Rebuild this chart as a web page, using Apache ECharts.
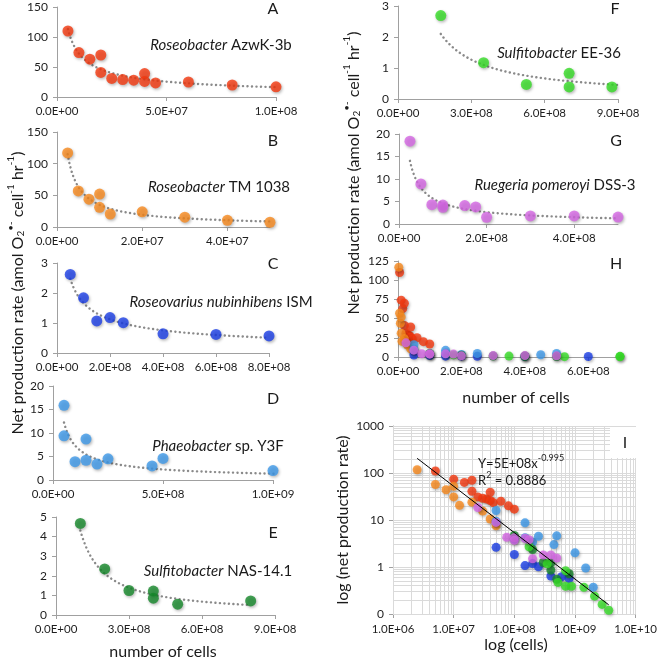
<!DOCTYPE html>
<html><head><meta charset="utf-8">
<script src="https://cdn.jsdelivr.net/npm/echarts@6/dist/echarts.min.js"></script>
<style>html,body{margin:0;padding:0;background:#fff}#c{width:660px;height:662px}</style>
</head><body><div id="c"></div>
<script>
// ---- data (cells, net production rate) ----
const A_x = [5e6,1e7,1.5e7,2e7,2e7,2.5e7,3e7,3.5e7,4e7,4e7,4.5e7,6e7,8e7,1e8];
const A_y = [110,74,63,70,41,31,29,28,39,26,23.5,25,20,17];
const B_x = [2.5e6,5e6,7.5e6,1e7,1e7,1.25e7,2e7,3e7,4e7,5e7];
const B_y = [117,57,44,52,31,20.5,24,15.5,10.5,7.5];
const C_x = [5e7,1e8,1.5e8,2e8,2.5e8,4e8,6e8,8e8];
const C_y = [2.62,1.84,1.07,1.18,1.01,0.64,0.62,0.57];
const D_x = [5e7,5e7,1e8,1.5e8,1.5e8,2e8,2.5e8,4.5e8,5e8,1e9,1.5e9,2e9];
const D_y = [15.9,9.4,3.9,8.7,4.2,3.4,4.5,3.0,4.6,2.0,0.95,0.37];
const E_x = [1e8,2e8,3e8,4e8,4e8,5e8,8e8];
const E_y = [4.67,2.35,1.25,1.22,0.86,0.55,0.72];
const F_x = [1.75e8,3.5e8,5.25e8,7e8,7e8,8.75e8,1.4e9,2.1e9,2.8e9,3.6e9];
const F_y = [2.69,1.17,0.47,0.83,0.39,0.39,0.37,0.24,0.16,0.12];
const G_x = [2.5e7,5e7,7.5e7,1e8,1e8,1.5e8,1.75e8,2e8,3e8,4e8,5e8];
const G_y = [18.4,8.9,4.3,4.2,3.7,4.1,3.8,1.5,1.8,1.8,1.55];

const panelLetters = ['A','B','C','D','E','F','G','H','I'];
const speciesItalic = ['Roseobacter','Roseobacter','Roseovarius nubinhibens','Phaeobacter','Sulfitobacter','Sulfitobacter','Ruegeria pomeroyi'];
const speciesRest = [' AzwK-3b',' TM 1038',' ISM',' sp. Y3F',' NAS-14.1',' EE-36',' DSS-3'];
const colors = ['#f4380f','#f78a1e','#1c3fe6','#3d98e8','#15882a','#35dc25','#d466e3'];
const regText = ['Y=5E+08x','-0.995'];
const r2Text = '0.8886';

const X = [A_x,B_x,C_x,D_x,E_x,F_x,G_x];
const Y = [A_y,B_y,C_y,D_y,E_y,F_y,G_y];

function pairs(xs, ys){ return xs.map((x,i)=>[x, ys[i]]); }
function powerFit(xs, ys){
  const n = xs.length; let sx=0, sy=0, sxx=0, sxy=0;
  for (let i=0;i<n;i++){ const lx=Math.log(xs[i]), ly=Math.log(ys[i]); sx+=lx; sy+=ly; sxx+=lx*lx; sxy+=lx*ly; }
  const b = (n*sxy - sx*sy)/(n*sxx - sx*sx);
  const a = Math.exp((sy - b*sx)/n);
  return {a,b};
}
function trend(xs, ys, steps){
  const f = powerFit(xs, ys);
  const lo = Math.min(...xs), hi = Math.max(...xs);
  const out = [];
  for (let i=0;i<=steps;i++){ const x = lo + (hi-lo)*i/steps; out.push([x, f.a*Math.pow(x, f.b)]); }
  return out;
}
function sci(v){
  if (v === 0) return '0.0E+00';
  const e = Math.floor(Math.log10(v) + 1e-9);
  const m = v/Math.pow(10,e);
  return m.toFixed(1) + 'E+' + String(e).padStart(2,'0');
}

const FONT = 'Lato, "Open Sans", sans-serif';
const axisCol = '#a0a0a0';
const lblCol = '#1e1e1e';

const grids = [
  {left:57, top:7,   width:219, height:90},
  {left:57, top:132, width:213, height:95},
  {left:57, top:263, width:212, height:90},
  {left:53, top:386, width:220, height:94},
  {left:56, top:517, width:219, height:98},
  {left:398,top:3,   width:220, height:96},
  {left:399,top:134, width:219, height:90},
  {left:398,top:261, width:222, height:96},
  {left:393,top:426, width:246, height:188}
];
const xr = [[0,1e8,5e7],[0,5e7,2e7],[0,8e8,2e8],[0,1e9,5e8],[0,9e8,3e8],[0,9e8,3e8],[0,5e8,2e8],[0,7e8,2e8]];
const yr = [[0,150,50],[0,150,50],[0,3,1],[0,20,5],[0,5,1],[0,3,1],[0,20,5],[0,125,25]];

const baseAxis = {
  axisLine:{lineStyle:{color:axisCol,width:1}},
  axisTick:{show:true,length:4,lineStyle:{color:axisCol}},
  splitLine:{show:false},
};
const xAxes = [], yAxes = [];
for (let i=0;i<8;i++){
  xAxes.push(Object.assign({}, baseAxis, {type:'value', gridIndex:i, min:xr[i][0], max:xr[i][1], interval:xr[i][2],
    axisLabel:{formatter:sci, fontSize:11.5, color:lblCol, fontFamily:FONT, margin:8, showMaxLabel: (xr[i][1] % xr[i][2] === 0)}}));
  yAxes.push(Object.assign({}, baseAxis, {type:'value', gridIndex:i, min:yr[i][0], max:yr[i][1], interval:yr[i][2],
    axisLabel:{fontSize:12, color:lblCol, fontFamily:FONT, margin:9}}));
}
xAxes.push(Object.assign({}, baseAxis, {type:'log', logBase:10, gridIndex:8, min:1e6, max:1e10,
  axisLabel:{formatter:sci, fontSize:11.5, color:lblCol, fontFamily:FONT, margin:9}}));
yAxes.push(Object.assign({}, baseAxis, {type:'log', logBase:10, gridIndex:8, min:0.1, max:1000,
  axisLabel:{formatter:v => v < 1 ? '0' : String(Math.round(v)), fontSize:12, color:lblCol, fontFamily:FONT, margin:9}}));

const shadow = {shadowBlur:3, shadowColor:'rgba(0,0,0,0.35)', shadowOffsetX:1, shadowOffsetY:1.5};
const series = [];
// individual panels
for (let i=0;i<7;i++){
  series.push({type:'line', xAxisIndex:i, yAxisIndex:i, data:trend(X[i],Y[i],300), showSymbol:false, symbol:'none', clip:true,
    lineStyle:{color:'#8a8a8a', width:2.4, type:[0.1,4.4], cap:'round'}, z:2, silent:true});
  series.push({type:'scatter', xAxisIndex:i, yAxisIndex:i, data:pairs(X[i],Y[i]), symbolSize:11, clip:true,
    itemStyle:Object.assign({color:colors[i]}, shadow), z:10});
}
// panel H (all strains, linear)
for (let i=0;i<7;i++){
  series.push({type:'scatter', xAxisIndex:7, yAxisIndex:7, data:pairs(X[i],Y[i]), symbolSize:9, clip:true,
    itemStyle:Object.assign({color:colors[i]}, shadow), z:10});
}
// panel I gridlines
const gx = [], gy = [];
for (let e=6;e<10;e++) for (let k=1;k<10;k++) gx.push(k*Math.pow(10,e));
gx.push(1e10);
for (let e=-1;e<3;e++) for (let k=1;k<10;k++) gy.push(k*Math.pow(10,e));
gy.push(1000);
series.push({type:'line', xAxisIndex:8, yAxisIndex:8, data:[], silent:true, z:1,
  markLine:{silent:true, z:1, symbol:['none','none'], label:{show:false}, animation:false,
    lineStyle:{color:'#dadada', width:1, type:'solid'},
    data: gx.map(v=>({xAxis:v})).concat(gy.map(v=>({yAxis:v})))}});
// panel I scatter
const allX = [], allY = [];
for (let i=0;i<7;i++){
  series.push({type:'scatter', xAxisIndex:8, yAxisIndex:8, data:pairs(X[i],Y[i]), symbolSize:9, clip:true,
    itemStyle:Object.assign({color:colors[i]}, shadow), z:10});
  allX.push(...X[i]); allY.push(...Y[i]);
}
{
  const f = powerFit(allX, allY);
  const lo = Math.min(...allX), hi = Math.max(...allX);
  series.push({type:'line', xAxisIndex:8, yAxisIndex:8, data:[[lo, f.a*Math.pow(lo,f.b)],[hi, f.a*Math.pow(hi,f.b)]],
    showSymbol:false, symbol:'none', lineStyle:{color:'#000', width:1}, z:12, silent:true});
}

// text graphics
const g = [];
function txt(x,y,text,size,opts){
  g.push(Object.assign({type:'text', x:x, y:y, z:100,
    style:Object.assign({text:text, fontSize:size, fontFamily:FONT, fill:'#1a1a1a', align:'center', verticalAlign:'middle'}, opts||{})}));
}
const letterPos = [[273,9],[273,141],[273,264],[273,399],[273,533],[615,9],[616,141],[616,264],[625,443]];
const speciesPos = [[221,45],[219,187],[221,302],[218,446],[218,571],[559,53],[555,185]];
// white box behind letter I
g.push({type:'rect', shape:{x:610, y:427, width:29, height:31}, style:{fill:'#fff'}, z:99});
panelLetters.forEach((l,i)=>txt(letterPos[i][0], letterPos[i][1], l, 16));
speciesItalic.forEach((s,i)=>{
  g.push({type:'text', x:speciesPos[i][0], y:speciesPos[i][1], z:100,
    style:{text:'{it|'+s+'}{n|'+speciesRest[i]+'}', align:'center', verticalAlign:'middle', fill:'#1a1a1a',
      rich:{it:{fontStyle:'italic', fontSize:15, fontFamily:FONT, fill:'#1a1a1a'}, n:{fontSize:15, fontFamily:FONT, fill:'#1a1a1a'}}}});
});
const ytRich = {
  n:{fontSize:16, fontFamily:FONT, fill:'#1a1a1a', verticalAlign:'bottom', lineHeight:20},
  sb:{fontSize:10, fontFamily:FONT, fill:'#1a1a1a', verticalAlign:'bottom', lineHeight:12},
  sp:{fontSize:10, fontFamily:FONT, fill:'#1a1a1a', verticalAlign:'top', lineHeight:12}
};
const ytText = '{n|Net production rate (amol O}{sb|2}{sp|•-}{n| cell}{sp|-1}{n| hr}{sp|-1}{n|)}';
g.push({type:'text', x:16, y:293, rotation:Math.PI/2, z:100, style:{text:ytText, rich:ytRich, align:'center', verticalAlign:'middle'}});
g.push({type:'text', x:352, y:173, rotation:Math.PI/2, z:100, style:{text:ytText, rich:ytRich, align:'center', verticalAlign:'middle'}});
txt(163, 652, 'number of cells', 16);
txt(516, 398, 'number of cells', 16);
txt(516, 645, 'log (cells)', 16);
g.push({type:'text', x:343, y:520, rotation:Math.PI/2, z:100, style:{text:'log (net production rate)', fontSize:16, fontFamily:FONT, fill:'#1a1a1a', align:'center', verticalAlign:'middle'}});
const regRich = {n:{fontSize:13, fontFamily:FONT, fill:'#1a1a1a', verticalAlign:'bottom', lineHeight:16}, s:{fontSize:9, fontFamily:FONT, fill:'#1a1a1a', verticalAlign:'top', lineHeight:10}};
g.push({type:'text', x:478, y:462, z:100, style:{text:'{n|'+regText[0]+'}{s|'+regText[1]+'}', align:'left', verticalAlign:'middle', rich:regRich}});
g.push({type:'text', x:478, y:479, z:100, style:{text:'{n|R}{s|2}{n| = '+r2Text+'}', align:'left', verticalAlign:'middle', rich:regRich}});

const chart = echarts.init(document.getElementById('c'), null, {renderer:'canvas'});
chart.setOption({animation:false, backgroundColor:'#fff', grid:grids, xAxis:xAxes, yAxis:yAxes, series:series, graphic:g});
</script></body></html>
